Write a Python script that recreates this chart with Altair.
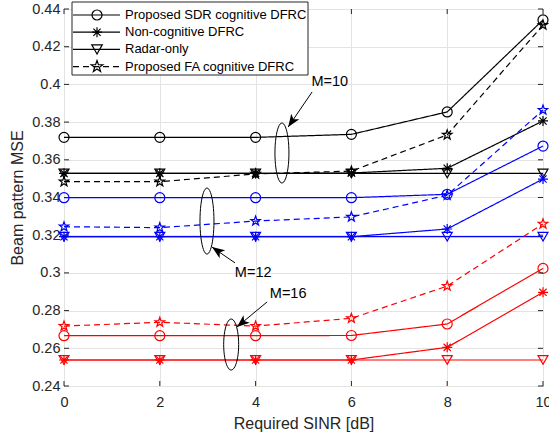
import math
import altair as alt
import pandas as pd

# ---------------- data ----------------
sinr = [0, 2, 4, 6, 8, 10]
schemes = ["Proposed SDR cognitive DFRC", "Non-cognitive DFRC", "Radar-only", "Proposed FA cognitive DFRC"]
groups = ["M=10", "M=12", "M=16"]

m10_sdr = [0.3719, 0.3719, 0.3719, 0.3735, 0.3854, 0.4342]
m10_noncog = [0.3528, 0.3528, 0.3528, 0.3530, 0.3555, 0.3806]
m10_radar = [0.3528, 0.3528, 0.3528, 0.3528, 0.3528, 0.3528]
m10_fa = [0.3484, 0.3484, 0.3525, 0.3540, 0.3732, 0.4315]

m12_sdr = [0.3399, 0.3399, 0.3399, 0.3399, 0.3417, 0.3673]
m12_noncog = [0.3192, 0.3192, 0.3192, 0.3192, 0.3233, 0.3498]
m12_radar = [0.3192, 0.3192, 0.3192, 0.3192, 0.3192, 0.3192]
m12_fa = [0.3245, 0.3240, 0.3275, 0.3297, 0.3412, 0.3864]

m16_sdr = [0.2667, 0.2667, 0.2667, 0.2668, 0.2729, 0.3024]
m16_noncog = [0.2538, 0.2538, 0.2538, 0.2538, 0.2605, 0.2897]
m16_radar = [0.2538, 0.2538, 0.2538, 0.2538, 0.2538, 0.2538]
m16_fa = [0.2718, 0.2738, 0.2718, 0.2759, 0.2930, 0.3260]

series = {
    "M=10": [m10_sdr, m10_noncog, m10_radar, m10_fa],
    "M=12": [m12_sdr, m12_noncog, m12_radar, m12_fa],
    "M=16": [m16_sdr, m16_noncog, m16_radar, m16_fa],
}

x_ticks = [0, 2, 4, 6, 8, 10]
y_ticks = [0.24, 0.26, 0.28, 0.30, 0.32, 0.34, 0.36, 0.38, 0.40, 0.42, 0.44]

# annotations (data coordinates)
ann_labels = ["M=10", "M=12", "M=16"]
ann_text_x = [5.55, 3.95, 4.68]
ann_text_y = [0.4013, 0.3000, 0.2888]
ann_tail_x = [5.18, 3.57, 4.24]
ann_tail_y = [0.3960, 0.3053, 0.2846]
ann_tip_x = [4.68, 3.09, 3.61]
ann_tip_y = [0.3774, 0.3137, 0.2713]
ell_x = [4.55, 2.985, 3.49]
ell_y = [0.3636, 0.3275, 0.2620]
ell_h = [60, 66, 51]
ell_w = [14, 14, 15]

rows = []
for g in groups:
    for s, vals in zip(schemes, series[g]):
        for xv, yv in zip(sinr, vals):
            rows.append({"sinr": xv, "mse": yv, "group": g, "scheme": s})
df = pd.DataFrame(rows)

# ---------------- styling ----------------
W, H = 479, 377
FONT = "Liberation Sans"
AX = "#262626"
FRAME = "#4d4d4d"
colors = ["#000000", "#0000ff", "#ff0000"]
ASTERISK = "M-1,0L1,0M0,-1L0,1M-0.72,-0.72L0.72,0.72M-0.72,0.72L0.72,-0.72"
star_pts = []
for k in range(10):
    rr = 1.0 if k % 2 == 0 else 0.40
    t = math.pi * k / 5
    star_pts.append(f"{rr * math.sin(t):.4f},{-rr * math.cos(t):.4f}")
STAR = "M" + "L".join(star_pts) + "Z"
shapes = ["circle", ASTERISK, "triangle-down", STAR]
sizes = [100, 100, 110, 150]
dashes = [[1, 0], [1, 0], [1, 0], [6, 4]]

xscale = alt.Scale(domain=[0, 10], nice=False, zero=False)
yscale = alt.Scale(domain=[0.24, 0.44], nice=False, zero=False)

xaxis = alt.Axis(values=x_ticks, format="d", grid=True, gridColor="#e3e3e3", domain=False,
                 ticks=False, tickSize=0, labelPadding=9, labelFontSize=14.5, labelFont=FONT,
                 labelColor=AX, labelFlush=False, labelOverlap=False,
                 titleFont=FONT, titleFontSize=16, titleFontWeight="normal",
                 titleColor=AX, titleX=W / 2, titleY=37, titleBaseline="middle", titleAlign="center",
                 orient="bottom")
yaxis = alt.Axis(values=y_ticks, format=".2~f", grid=True, gridColor="#e3e3e3", domain=False,
                 ticks=False, tickSize=0, labelPadding=4, labelFontSize=14.5, labelFont=FONT,
                 labelColor=AX, labelFlush=False, labelOverlap=False,
                 titleFont=FONT, titleFontSize=16, titleFontWeight="normal",
                 titleColor=AX, titleX=-47, titleY=H / 2, titleAngle=270, titleBaseline="middle",
                 titleAlign="center", orient="left")

XT = "Required SINR [dB]"
YT = "Beam pattern MSE"


def X(field="sinr"):
    return alt.X(f"{field}:Q", scale=xscale, axis=xaxis, title=XT)


def Y(field="mse"):
    return alt.Y(f"{field}:Q", scale=yscale, axis=yaxis, title=YT)


color_enc = alt.Color("group:N", scale=alt.Scale(domain=groups, range=colors), legend=None)

lines = alt.Chart(df).mark_line(strokeWidth=1.2, clip=False).encode(
    x=X(), y=Y(), color=color_enc,
    strokeDash=alt.StrokeDash("scheme:N", scale=alt.Scale(domain=schemes, range=dashes), legend=None),
)

points = alt.Chart(df).mark_point(filled=False, strokeWidth=1.2, opacity=1, clip=False).encode(
    x=X(), y=Y(), color=color_enc,
    shape=alt.Shape("scheme:N", scale=alt.Scale(domain=schemes, range=shapes), legend=None),
    size=alt.Size("scheme:O", scale=alt.Scale(domain=schemes, range=sizes), legend=None),
)

# inward ticks on all four sides
ytick_df = pd.DataFrame({"mse": y_ticks})
xtick_df = pd.DataFrame({"sinr": x_ticks})
tick_layers = [
    alt.Chart(ytick_df).mark_rule(color=AX, strokeWidth=1).encode(y=Y(), x=alt.value(0), x2=alt.value(5)),
    alt.Chart(ytick_df).mark_rule(color=AX, strokeWidth=1).encode(y=Y(), x=alt.value(W - 5), x2=alt.value(W)),
    alt.Chart(xtick_df).mark_rule(color=AX, strokeWidth=1).encode(x=X(), y=alt.value(H - 5), y2=alt.value(H)),
    alt.Chart(xtick_df).mark_rule(color=AX, strokeWidth=1).encode(x=X(), y=alt.value(0), y2=alt.value(5)),
]

# annotations
px_x = W / 10.0
px_y = H / 0.2
ann_layers = []
HEAD = "M0,0L0.7,1.8L0,1.35L-0.7,1.8Z"
for i in range(3):
    # ellipse
    r = ell_w[i] / ell_h[i]
    pts = []
    for k in range(48):
        t = 2 * math.pi * k / 48
        pts.append(f"{r * math.sin(t):.4f},{-math.cos(t):.4f}")
    epath = "M" + "L".join(pts) + "Z"
    edf = pd.DataFrame({"sinr": [ell_x[i]], "mse": [ell_y[i]]})
    ann_layers.append(alt.Chart(edf).mark_point(shape=epath, size=ell_h[i] ** 2, filled=False,
                                                color="black", strokeWidth=1, opacity=1).encode(x=X(), y=Y()))
    # arrow shaft
    adf = pd.DataFrame({"sinr": [ann_tail_x[i]], "mse": [ann_tail_y[i]],
                        "sinr2": [ann_tip_x[i]], "mse2": [ann_tip_y[i]]})
    ann_layers.append(alt.Chart(adf).mark_rule(color="black", strokeWidth=1).encode(
        x=X(), y=Y(), x2="sinr2:Q", y2="mse2:Q"))
    # arrow head
    dx = (ann_tip_x[i] - ann_tail_x[i]) * px_x
    dy = -(ann_tip_y[i] - ann_tail_y[i]) * px_y
    ang = math.degrees(math.atan2(dx, -dy)) % 360
    hdf = pd.DataFrame({"sinr": [ann_tip_x[i]], "mse": [ann_tip_y[i]]})
    ann_layers.append(alt.Chart(hdf).mark_point(shape=HEAD, size=196, filled=True, color="black",
                                                opacity=1, angle=ang).encode(x=X(), y=Y()))
    # label
    tdf = pd.DataFrame({"sinr": [ann_text_x[i]], "mse": [ann_text_y[i]], "label": [ann_labels[i]]})
    ann_layers.append(alt.Chart(tdf).mark_text(font=FONT, fontSize=14.5, color="black", align="center",
                                               baseline="middle").encode(x=X(), y=Y(), text="label:N"))

# legend (manual, drawn in pixel space)
one = pd.DataFrame({"a": [0]})
leg_layers = [
    alt.Chart(one).mark_rect(fill="white", stroke=AX, strokeWidth=1).encode(
        x=alt.value(8), x2=alt.value(244), y=alt.value(-7), y2=alt.value(66))
]
leg_y = [6, 23.2, 40.4, 57.6]
for i, s in enumerate(schemes):
    ly = leg_y[i]
    rule_kw = {"color": "black", "strokeWidth": 1.2}
    if i == 3:
        rule_kw["strokeDash"] = [6, 4]
    leg_layers.append(alt.Chart(one).mark_rule(**rule_kw).encode(
        x=alt.value(9), x2=alt.value(56), y=alt.value(ly)))
    leg_layers.append(alt.Chart(one).mark_point(shape=shapes[i], size=sizes[i], filled=False,
                                                color="black", strokeWidth=1.2, opacity=1).encode(
        x=alt.value(33), y=alt.value(ly)))
    leg_layers.append(alt.Chart(pd.DataFrame({"t": [s]})).mark_text(
        font=FONT, fontSize=13, color="black", align="left", baseline="middle").encode(
        x=alt.value(61), y=alt.value(ly), text="t:N"))

chart = alt.layer(lines, points, *tick_layers, *ann_layers, *leg_layers).properties(
    width=W, height=H,
    padding={"left": 64, "top": 9, "right": 6, "bottom": 50},
    autosize=alt.AutoSizeParams(type="none"),
).configure_view(stroke=FRAME, strokeWidth=1)

chart.save("out.html", embed_options={"renderer": "svg", "actions": False})
